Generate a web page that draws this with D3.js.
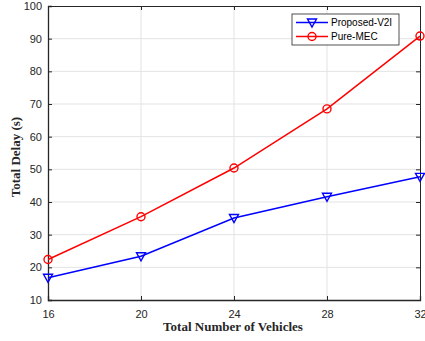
<!DOCTYPE html>
<html>
<head>
<meta charset="utf-8">
<script src="https://cdn.jsdelivr.net/npm/d3@7"></script>
<style>
  html, body { margin: 0; padding: 0; background: #fff; }
  svg { display: block; }
</style>
</head>
<body>
<svg id="chart" width="425" height="341"></svg>
<script>
// Total delay versus number of vehicles for two offloading schemes
const vehicles = [16, 20, 24, 28, 32];
const proposedV2I = [16.8, 23.4, 35.1, 41.6, 47.7];
const pureMEC = [22.4, 35.5, 50.4, 68.5, 90.8];
const xTicks = [16, 20, 24, 28, 32];
const yTicks = [10, 20, 30, 40, 50, 60, 70, 80, 90, 100];

const series = [
  { name: "Proposed-V2I", values: proposedV2I, color: "#0000ff", marker: "triangle" },
  { name: "Pure-MEC", values: pureMEC, color: "#ff0000", marker: "circle" }
];

const svg = d3.select("#chart");
const m = { left: 48, top: 6, right: 5, bottom: 41 };
const W = 425, H = 341;
const x = d3.scaleLinear().domain([16, 32]).range([m.left, W - m.right]);
const y = d3.scaleLinear().domain([10, 100]).range([H - m.bottom, m.top]);
const axisColor = "#262626";

// grid
const grid = svg.append("g");
grid.selectAll(".gx").data(xTicks.slice(1, -1)).join("line")
  .attr("x1", d => x(d)).attr("x2", d => x(d))
  .attr("y1", y(10)).attr("y2", y(100))
  .attr("stroke", "#e3e3e3").attr("stroke-width", 1);
grid.selectAll(".gy").data(yTicks.slice(1, -1)).join("line")
  .attr("y1", d => y(d)).attr("y2", d => y(d))
  .attr("x1", x(16)).attr("x2", x(32))
  .attr("stroke", "#e3e3e3").attr("stroke-width", 1);

// axes with inward ticks
const tickFont = "Liberation Sans, Arial, Helvetica, sans-serif";
const xAxis = svg.append("g").attr("transform", `translate(0,${y(10)})`)
  .call(d3.axisBottom(x).tickValues(xTicks).tickSize(-4).tickPadding(10).tickFormat(d3.format("d")));
const yAxis = svg.append("g").attr("transform", `translate(${x(16)},0)`)
  .call(d3.axisLeft(y).tickValues(yTicks).tickSize(-4).tickPadding(6).tickFormat(d3.format("d")));
const xTop = svg.append("g").attr("transform", `translate(0,${y(100)})`)
  .call(d3.axisTop(x).tickValues(xTicks).tickSize(-4).tickFormat(""));
const yRight = svg.append("g").attr("transform", `translate(${x(32)},0)`)
  .call(d3.axisRight(y).tickValues(yTicks).tickSize(-4).tickFormat(""));

[xAxis, yAxis, xTop, yRight].forEach(g => {
  g.select(".domain").attr("stroke", axisColor).attr("stroke-width", 1);
  g.selectAll(".tick line").attr("stroke", axisColor);
  g.selectAll(".tick text").attr("fill", axisColor)
    .style("font-family", tickFont).style("font-size", "11px");
});
xAxis.select(".domain").attr("stroke-width", 1.3);
yAxis.select(".domain").attr("stroke-width", 1.3);

// lines and markers
const line = d3.line().x((d, i) => x(vehicles[i])).y(d => y(d));
series.forEach(s => {
  svg.append("path").datum(s.values)
    .attr("d", line).attr("fill", "none")
    .attr("stroke", s.color).attr("stroke-width", 1.5);
  const pts = svg.append("g").selectAll("g").data(s.values).join("g")
    .attr("transform", (d, i) => `translate(${x(vehicles[i])},${y(d)})`);
  if (s.marker === "circle") {
    pts.append("circle").attr("r", 4).attr("fill", "none")
      .attr("stroke", s.color).attr("stroke-width", 1.4);
  } else {
    pts.append("path").attr("d", "M-4.5,-3.5L4.5,-3.5L0,4.5Z").attr("fill", "none")
      .attr("stroke", s.color).attr("stroke-width", 1.4);
  }
});

// legend
const lg = svg.append("g").attr("transform", "translate(292,14)");
lg.append("rect").attr("width", 107).attr("height", 31)
  .attr("fill", "#fff").attr("stroke", axisColor).attr("stroke-width", 0.8);
series.forEach((s, i) => {
  const yy = 8.5 + i * 14;
  lg.append("line").attr("x1", 4).attr("x2", 36).attr("y1", yy).attr("y2", yy)
    .attr("stroke", s.color).attr("stroke-width", 1.5);
  if (s.marker === "circle") {
    lg.append("circle").attr("cx", 20).attr("cy", yy).attr("r", 4)
      .attr("fill", "none").attr("stroke", s.color).attr("stroke-width", 1.4);
  } else {
    lg.append("path").attr("transform", `translate(20,${yy})`)
      .attr("d", "M-4.5,-3.5L4.5,-3.5L0,4.5Z").attr("fill", "none")
      .attr("stroke", s.color).attr("stroke-width", 1.4);
  }
  lg.append("text").attr("x", 39).attr("y", yy + 3.5)
    .attr("fill", "#000").style("font-family", tickFont).style("font-size", "10px")
    .text(s.name);
});

// axis titles
const titleFont = "Liberation Serif, Times New Roman, serif";
svg.append("text").attr("x", 233).attr("y", 331)
  .attr("text-anchor", "middle").attr("fill", axisColor)
  .style("font-family", titleFont).style("font-weight", "bold").style("font-size", "13px")
  .text("Total Number of Vehicles");
svg.append("text").attr("transform", `translate(20,${(y(10) + y(100)) / 2 + 4}) rotate(-90)`)
  .attr("text-anchor", "middle").attr("fill", axisColor)
  .style("font-family", titleFont).style("font-weight", "bold").style("font-size", "13px")
  .text("Total Delay (s)");
</script>
</body>
</html>
